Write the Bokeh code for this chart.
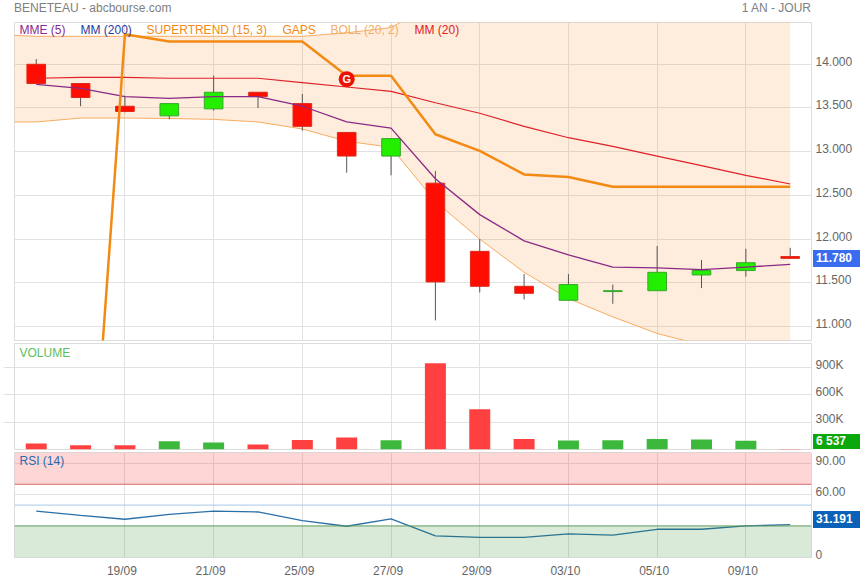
from bokeh.embed import file_html
from bokeh.resources import INLINE
from bokeh.core.properties import value
from bokeh.layouts import column
from bokeh.models import BoxAnnotation, Div, FixedTicker, Grid, Label, LinearAxis, Range1d, Span
from bokeh.plotting import figure

# ---------- data ----------
dates = ["15/09", "18/09", "19/09", "20/09", "21/09", "22/09", "25/09", "26/09", "27/09",
         "28/09", "29/09", "02/10", "03/10", "04/10", "05/10", "06/10", "09/10", "10/10"]
opens  = [14.00, 13.78, 13.52, 13.41, 13.49, 13.68, 13.55, 13.22, 12.95, 12.64, 11.86, 11.46, 11.30, 11.40, 11.41, 11.59, 11.64, 11.80]
closes = [13.78, 13.62, 13.46, 13.55, 13.68, 13.63, 13.29, 12.95, 13.15, 11.51, 11.46, 11.38, 11.48, 11.41, 11.62, 11.64, 11.73, 11.78]
highs  = [14.06, 13.78, 13.64, 13.55, 13.87, 13.68, 13.66, 13.22, 13.15, 12.78, 12.00, 11.60, 11.60, 11.48, 11.92, 11.76, 11.89, 11.90]
lows   = [13.78, 13.52, 13.45, 13.37, 13.47, 13.50, 13.24, 12.76, 12.73, 11.07, 11.39, 11.31, 11.30, 11.26, 11.41, 11.44, 11.57, 11.78]
mme5   = [13.77, 13.725, 13.63, 13.61, 13.63, 13.63, 13.52, 13.34, 13.27, 12.69, 12.28, 11.98, 11.82, 11.68, 11.67, 11.65, 11.68, 11.71]
mm20   = [13.84, 13.85, 13.85, 13.84, 13.84, 13.84, 13.79, 13.74, 13.69, 13.56, 13.44, 13.29, 13.16, 13.06, 12.95, 12.84, 12.73, 12.63]
boll_x     = [-1, 0, 1, 2, 3, 4, 5, 6, 7, 8, 9, 10, 11, 12, 13, 14, 15, 16, 17]
boll_lower = [13.34, 13.34, 13.385, 13.385, 13.38, 13.37, 13.34, 13.26, 13.12, 13.05, 12.43, 12.00, 11.62, 11.32, 11.11, 10.92, 10.79, 10.66, 10.55]
boll_upper = [14.34, 14.32, 14.32, 14.32, 14.32, 14.32, 14.32, 14.32, 14.36, 14.42, 14.70, 14.88, 14.96, 15.00, 15.01, 14.98, 14.89, 14.80, 14.70]
st_x   = [1, 2, 3, 4, 5, 6, 7, 8, 9, 10, 11, 12, 13, 14, 15, 16, 17]
st_val = [7.30, 14.343, 14.26, 14.26, 14.26, 14.26, 13.87, 13.87, 13.20, 13.01, 12.74, 12.71, 12.60, 12.60, 12.60, 12.60, 12.60]
gap_x, gap_y = 7, 13.83
volume = [66000, 47000, 47000, 91000, 77000, 55000, 105000, 132000, 102000, 948000, 443000, 116000, 99000, 102000, 116000, 110000, 95000, 6537]
rsi    = [44.3, 40.2, 36.4, 41.1, 44.3, 43.4, 35.1, 29.7, 36.7, 20.4, 19.1, 19.1, 22.3, 21.1, 26.8, 26.8, 30.0, 31.191]
price_ticks = [11.0, 11.5, 12.0, 12.5, 13.0, 13.5, 14.0]
vol_ticks = [300000, 600000, 900000]
vol_labels = {300000: "300K", 600000: "600K", 900000: "900K"}
rsi_ticks = [0, 60, 90]
rsi_labels = {0: "0", 60: "60.00", 90: "90.00"}
rsi_levels = [70, 50, 30]
date_ticks = [2, 4, 6, 8, 10, 12, 14, 16]

# ---------- style ----------
FONT = "Liberation Sans"
GRID = "#e1e1e1"
X0, X1 = -0.49, 17.48
PX = (X1 - X0) / 797
idx = list(range(len(opens)))


def panel(height, top, bottom, ymin, ymax, ticks, overrides=None):
    p = figure(width=860, height=height, x_range=Range1d(X0, X1), y_range=Range1d(ymin, ymax),
               x_axis_type=None, y_axis_type=None, toolbar_location=None, tools="",
               output_backend="svg", min_border_left=14, min_border_right=49,
               min_border_top=top, min_border_bottom=bottom, background_fill_color="white",
               border_fill_color="white", outline_line_color="#dddddd", outline_line_width=1)
    p.add_layout(Grid(dimension=0, ticker=FixedTicker(ticks=date_ticks), grid_line_color=GRID))
    p.add_layout(Grid(dimension=1, ticker=FixedTicker(ticks=ticks), grid_line_color=GRID))
    frame_h = height - top - bottom
    shift = (ymax - ymin) / frame_h * 3
    p.extra_y_ranges["labels"] = Range1d(ymin - shift, ymax - shift)
    ax = LinearAxis(y_range_name="labels", ticker=FixedTicker(ticks=ticks), axis_line_color=None,
                    major_tick_line_color=None, minor_tick_line_color=None, major_tick_out=0, major_tick_in=0,
                    major_label_text_font=FONT, major_label_text_font_size="12px",
                    major_label_text_color="#666666", major_label_standoff=4)
    if overrides:
        ax.major_label_overrides = overrides
    p.add_layout(ax, "right")
    return p


def text(p, s, x, y, color, size="12px", **kw):
    p.add_layout(Label(x=x, y=y, x_units="screen", y_units="screen", text=s, text_color=color,
                       text_font=FONT, text_font_size=size, text_baseline="middle", **kw))


def box(s, left, top, width, height, color="white", background=None, bold=False, align="left", pad=0):
    st = {"position": "absolute", "left": f"{left}px", "top": f"{top}px", "width": f"{width}px",
          "height": f"{height}px", "line-height": f"{height}px", "font-family": FONT, "font-size": "12px",
          "color": color, "text-align": align, "padding-left": f"{pad}px", "box-sizing": "border-box",
          "white-space": "nowrap", "z-index": "5"}
    if background:
        st["background-color"] = background
    if bold:
        st["font-weight"] = "bold"
    return Div(text=s, styles=st, width=width, height=height, margin=0)


# ---------- price ----------
p1 = panel(341, 22, 1, 10.84, 14.478, price_ticks)
p1.yaxis[0].major_label_overrides = {t: f"{t:.3f}" for t in price_ticks}
p1.varea(boll_x, boll_lower, boll_upper, fill_color="#fb9a3c", fill_alpha=0.18)
p1.line(boll_x, boll_lower, line_color="#f6ac62", line_width=1)
p1.line(boll_x, boll_upper, line_color="#f6ac62", line_width=1)
p1.segment(idx, highs, idx, lows, line_color="#555555", line_width=1)
for i in idx:
    up = closes[i] >= opens[i]
    p1.vbar(x=[i], width=0.42, bottom=[min(opens[i], closes[i])], top=[max(opens[i], closes[i])],
            fill_color="#22ee00" if up else "#ff0d00", line_color="#35a92a" if up else "#dd2a1a", line_width=1)
p1.line(idx, mme5, line_color="#8a2a86", line_width=1.3)
p1.line(idx, mm20, line_color="#e0202a", line_width=1.2)
p1.line(st_x, st_val, line_color="#f28a14", line_width=2.5)
p1.scatter([gap_x], [gap_y], size=16, fill_color="#f01000", line_color=None)
p1.text([gap_x], [gap_y], text=["G"], text_color="white", text_font=value(FONT), text_font_size="11px",
        text_font_style="bold", text_align="center", text_baseline="middle")
for s, x, c in [("MME (5)", 5, "#8a2a8e"), ("MM (200)", 66, "#2a3a9a"), ("SUPERTREND (15, 3)", 132, "#f28a14"),
                ("GAPS", 268, "#f28a14"), ("BOLL (20, 2)", 316, "#f6ac62"), ("MM (20)", 400, "#e0202a")]:
    text(p1, s, x, 311, c)

# ---------- volume ----------
p2 = panel(109, 2, 1, 0, 1165000, vol_ticks, vol_labels)
stub = LinearAxis(ticker=FixedTicker(ticks=vol_ticks), axis_line_color=None, major_tick_line_color=GRID,
                  major_tick_out=11, major_tick_in=0, minor_tick_line_color=None, major_label_text_color=None,
                  major_label_standoff=0, major_label_text_font_size="1px")
p2.add_layout(stub, "left")
p2.vbar(x=idx, width=0.473, bottom=0, top=volume,
        fill_color=["#3cb83c" if closes[i] >= opens[i] else "#ff4040" for i in idx], line_color=None)
text(p2, "VOLUME", 5, 97, "#5cc05c")

# ---------- RSI ----------
p3 = panel(130, 2, 23, -0.3, 100.5, rsi_ticks, rsi_labels)
p3.add_layout(BoxAnnotation(bottom=rsi_levels[0], fill_color="#ff3030", fill_alpha=0.2, line_color=None))
p3.add_layout(BoxAnnotation(top=rsi_levels[2], fill_color="#2e8b2e", fill_alpha=0.18, line_color=None))
p3.add_layout(Span(location=rsi_levels[0], dimension="width", line_color="#d46a6a", line_width=1))
p3.add_layout(Span(location=rsi_levels[1], dimension="width", line_color="#a8c6e6", line_width=1))
p3.add_layout(Span(location=rsi_levels[2], dimension="width", line_color="#5a9a5a", line_width=1))
p3.line(idx, rsi, line_color="#2a70a8", line_width=1.3)
text(p3, "RSI (14)", 5, 97, "#2a6ab0")
p3.extra_x_ranges["labels"] = Range1d(X0 + 3 * PX, X1 + 3 * PX)
xax = LinearAxis(x_range_name="labels", ticker=FixedTicker(ticks=date_ticks), axis_line_color=None,
                 major_tick_line_color=None, minor_tick_line_color=None, major_tick_out=0, major_tick_in=0,
                 major_label_overrides={i: dates[i] for i in date_ticks},
                 major_label_text_font=FONT, major_label_text_font_size="12px",
                 major_label_text_color="#666666", major_label_standoff=6)
p3.add_layout(xax, "below")

overlays = [
    box("BENETEAU - abcbourse.com", 14, 1, 200, 15, color="#808080"),
    box("1 AN - JOUR", 711, 1, 100, 15, color="#808080", align="right"),
    box(f"{closes[-1]:.3f}", 813, 250, 47, 17, background="#3a6cf0", bold=True, pad=3),
    box(f"{volume[-1]:,}".replace(",", " "), 813, 434, 47, 15, background="#0aa80a", bold=True, pad=3),
    box(f"{rsi[-1]:.3f}", 813, 511, 47, 17, background="#0a62b8", bold=True, pad=3),
]
page = column(p1, p2, p3, *overlays, spacing=0, styles={"position": "absolute", "left": "0", "top": "0"})
open("out.html", "w").write(file_html(page, INLINE))
